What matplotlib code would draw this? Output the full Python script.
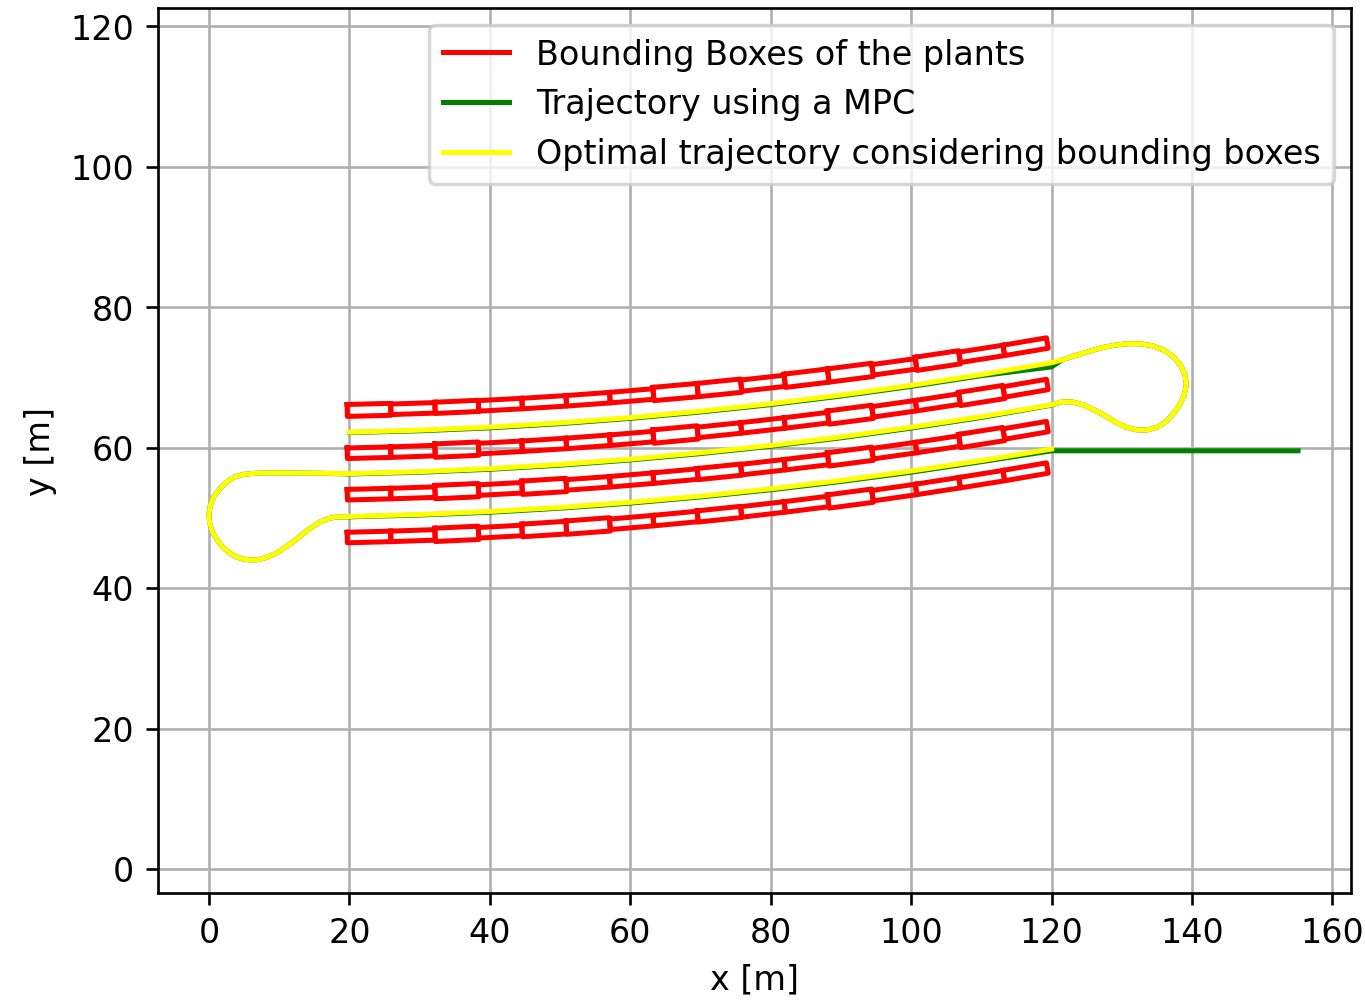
import matplotlib
matplotlib.use("Agg")
import matplotlib.pyplot as plt
import numpy as np

# ---------------- data ----------------
# plant-row box boundaries (x) and row centre lines (y) at those boundaries
row_x = [19.7, 25.9, 32.2, 38.4, 44.6, 50.9, 57.1, 63.3, 69.6, 75.8,
         82.0, 88.2, 94.5, 100.7, 106.9, 113.2, 119.4]
row1_y = [65.3, 65.46, 65.67, 65.95, 66.28, 66.67, 67.12, 67.64, 68.2,
          68.83, 69.52, 70.27, 71.08, 71.94, 72.87, 73.85, 74.9]
row2_y = [59.2, 59.36, 59.58, 59.86, 60.2, 60.6, 61.06, 61.58, 62.17,
          62.81, 63.51, 64.28, 65.1, 65.98, 66.93, 67.93, 69.0]
row3_y = [53.3, 53.46, 53.67, 53.95, 54.29, 54.69, 55.14, 55.66, 56.24,
          56.87, 57.57, 58.32, 59.14, 60.01, 60.95, 61.94, 63.0]
row4_y = [47.2, 47.36, 47.58, 47.87, 48.21, 48.61, 49.08, 49.61, 50.2,
          50.85, 51.56, 52.33, 53.16, 54.05, 55.01, 56.02, 57.1]
# box widths (m) for each plant box in each row
row1_w = [1.7, 1.5, 1.6, 1.5, 1.5, 1.5, 1.5, 1.9, 1.9, 1.6, 1.9, 1.9, 1.5, 1.9, 1.5, 1.5]
row2_w = [1.5, 1.5, 1.9, 1.5, 1.5, 1.5, 1.5, 1.9, 1.5, 1.5, 1.5, 1.9, 1.5, 1.5, 1.9, 1.5]
row3_w = [1.5, 1.5, 1.9, 1.5, 1.9, 1.5, 1.5, 1.5, 1.6, 1.5, 1.5, 1.9, 1.5, 1.5, 1.9, 1.5]
row4_w = [1.5, 1.5, 1.9, 1.5, 1.8, 1.9, 1.5, 1.5, 1.6, 1.5, 1.5, 1.9, 1.5, 1.5, 1.5, 1.5]

# lanes between rows (optimal trajectory)
lane_x = [20, 30, 40, 50, 60, 70, 80, 90, 100, 110, 120]
laneA_y = [50.2, 50.48, 50.91, 51.49, 52.22, 53.1, 54.14, 55.33, 56.67, 58.16, 59.8]
laneB_y = [56.3, 56.58, 57.02, 57.61, 58.36, 59.27, 60.32, 61.53, 62.91, 64.42, 66.1]
laneC_y = [62.2, 62.49, 62.93, 63.53, 64.28, 65.2, 66.26, 67.49, 68.87, 70.41, 72.1]

# MPC trajectory lanes
mpc_laneA_y = [50.15, 50.4, 50.8, 51.38, 52.1, 52.98, 54.0, 55.18, 56.5, 58.0, 59.55]
mpc_laneB_y = [56.25, 56.5, 56.92, 57.5, 58.25, 59.15, 60.2, 61.4, 62.78, 64.3, 66.05]
mpc_laneC_y = [62.15, 62.4, 62.82, 63.42, 64.17, 65.08, 66.13, 67.35, 68.72, 70.25, 71.5]
mpc_start_x = [155.1, 120.0]
mpc_start_y = [59.55, 59.55]

# turning loops
left_loop_x = [18, 17, 16, 15, 14, 13, 12, 11, 10, 9, 8, 7, 6, 5, 4, 3, 2,
               1.2, 0.5, 0.1, 0.0, 0.2, 0.7, 1.5, 2.5, 3.7, 5.0, 6.5, 8.5, 12, 16]
left_loop_y = [50.1, 49.9, 49.5, 48.9, 48.2, 47.4, 46.6, 45.9, 45.2, 44.7,
               44.3, 44.05, 44.0, 44.1, 44.4, 44.95, 45.8, 46.8, 48.0, 49.3,
               50.5, 51.8, 53.0, 54.1, 55.1, 55.85, 56.2, 56.35, 56.4, 56.4, 56.35]
right_loop_x = [121.5, 123, 124.5, 126, 127.5, 129, 130.5, 132, 133.5, 135,
                136.3, 137.4, 138.3, 138.9, 139.2, 139.0, 138.4, 137.4, 136.0,
                134.4, 132.6, 130.8, 129, 127, 125, 123, 121.5]
right_loop_y = [66.55, 66.5, 66.1, 65.4, 64.6, 63.7, 62.95, 62.55, 62.5, 62.9,
                63.7, 64.9, 66.2, 67.5, 69.0, 70.4, 71.7, 72.9, 73.9, 74.5,
                74.8, 74.8, 74.6, 74.2, 73.6, 73.0, 72.5]

x_ticks = [0, 20, 40, 60, 80, 100, 120, 140, 160]
y_ticks = [0, 20, 40, 60, 80, 100, 120]

# ---------------- figure ----------------
DPI = 240
fig = plt.figure(figsize=(1365.2 / DPI, 1001.4 / DPI), dpi=DPI)
ax = fig.add_axes([157.5 / 1365, 1 - 893.5 / 1001, (1350.5 - 157.5) / 1365,
                   (893.5 - 8.5) / 1001])

first = True
for ry, rw in [(row1_y, row1_w), (row2_y, row2_w), (row3_y, row3_w), (row4_y, row4_w)]:
    for k in range(len(rw)):
        p0 = np.array([row_x[k], ry[k]])
        p1 = np.array([row_x[k + 1], ry[k + 1]])
        d = (p1 - p0) / np.linalg.norm(p1 - p0)
        n = np.array([-d[1], d[0]]) * rw[k] / 2
        c = np.array([p0 + n, p1 + n, p1 - n, p0 - n, p0 + n])
        ax.plot(c[:, 0], c[:, 1], color='red',
                label='Bounding Boxes of the plants' if first else None)
        first = False

# MPC trajectory
gx = (list(mpc_start_x) + lane_x[::-1] + left_loop_x + lane_x + right_loop_x + lane_x[::-1])
gy = (list(mpc_start_y) + mpc_laneA_y[::-1] + left_loop_y + mpc_laneB_y + right_loop_y
      + mpc_laneC_y[::-1])
ax.plot(gx, gy, color='green', label='Trajectory using a MPC')

# optimal trajectory
yx = lane_x[::-1] + left_loop_x + lane_x + right_loop_x + lane_x[::-1]
yy = laneA_y[::-1] + left_loop_y + laneB_y + right_loop_y + laneC_y[::-1]
ax.plot(yx, yy, color='yellow',
        label='Optimal trajectory considering bounding boxes')

ax.set_xlim(-7.32, 162.6)
ax.set_ylim(-3.49, 122.6)
ax.set_xticks(x_ticks)
ax.set_yticks(y_ticks)
ax.grid(True)
ax.set_xlabel('x [m]')
ax.set_ylabel('y [m]')
ax.legend(loc='upper right')

fig.savefig('out.png', dpi=DPI)
